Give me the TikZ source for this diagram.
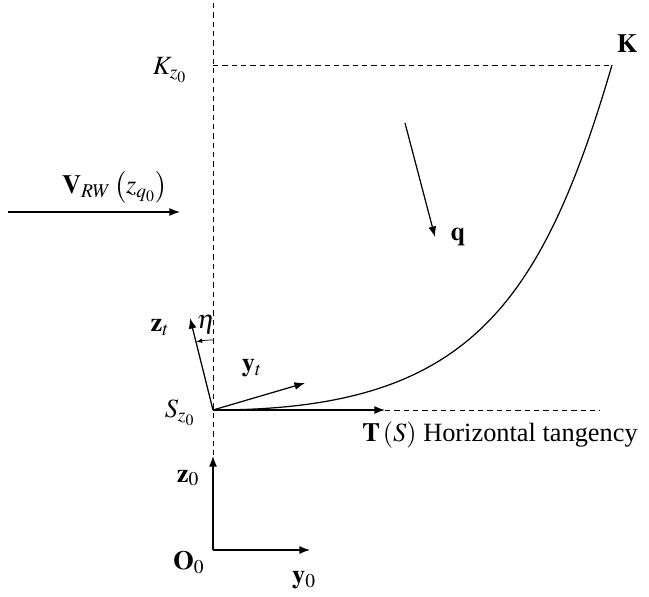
\documentclass[tikz,border=0pt]{standalone}
\usepackage{amsmath}
\usepackage{mathptmx}
\usepackage{fontspec}
\setmainfont{Liberation Serif}
\usepackage{tikz}
\usetikzlibrary{arrows.meta}

\begin{document}
\begin{tikzpicture}[x=0.02cm,y=-0.02cm,line width=0.7pt,
    >={Latex[length=6pt,width=4.5pt]},
    guide/.style={line width=0.55pt,dash pattern=on 3pt off 2.3pt},
    font=\fontsize{15}{18}\selectfont]
  \useasboundingbox (0,0) rectangle (649,596);
  \coordinate (S) at (213,410);
  \coordinate (top) at (213,3);
  \coordinate (O) at (213,550);
  \coordinate (z0tip) at (213,456);
  \coordinate (y0tip) at (310,550);
  \coordinate (Kpt) at (612,65);
  \coordinate (Kleft) at (213,65);
  \coordinate (Ttip) at (385,410);
  \coordinate (Tend) at (600,410);
  \coordinate (yttip) at (305,383);
  \coordinate (zttip) at (190,318);
  \coordinate (Vstart) at (8,212);
  \coordinate (Vtip) at (180,212);
  \coordinate (qstart) at (405,123);
  \coordinate (qtip) at (435,237);
  % guide lines
  \draw[guide] (top) -- (z0tip);
  \draw[guide] (Kleft) -- (Kpt);
  \draw[guide] (Ttip) -- (Tend);
  % curve S -> K
  \draw (S) .. controls +(250,0) and +(-72.5,248) .. (Kpt);
  % vectors
  \draw[->] (S) -- (Ttip);
  \draw[->] (S) -- (yttip);
  \draw[->] (S) -- (zttip);
  \draw[->] (O) -- (z0tip);
  \draw[->] (O) -- (y0tip);
  \draw[->] (Vstart) -- (Vtip);
  \draw[->] (qstart) -- (qtip);
  \draw[line width=0.4pt,-{Latex[length=3.5pt,width=2.5pt]}] ([shift={(-90:70)}]S) arc[start angle=-90,end angle=-104,radius=70];
  % labels
  \node (Kz) at (170,70) {$K_{z_0}$};
  \node (K) at (627,44) {$\mathbf{K}$};
  \node (Vrw) at (115,187) {$\mathbf{V}_{RW}\left(z_{q_0}\right)$};
  \node (q) at (458,237) {$\mathbf{q}$};
  \node (zt) at (160,327) {$\mathbf{z}_t$};
  \node (eta) at (206,324) {$\eta$};
  \node (yt) at (252,368) {$\mathbf{y}_t$};
  \node (Sz) at (180,413) {$S_{z_0}$};
  \node (TS) at (500,435) {$\mathbf{T}\left(S\right)$ Horizontal tangency};
  \node (z0) at (188,478) {$\mathbf{z}_0$};
  \node (O0) at (189,563) {$\mathbf{O}_0$};
  \node (y0) at (304,580) {$\mathbf{y}_0$};
\end{tikzpicture}
\end{document}
